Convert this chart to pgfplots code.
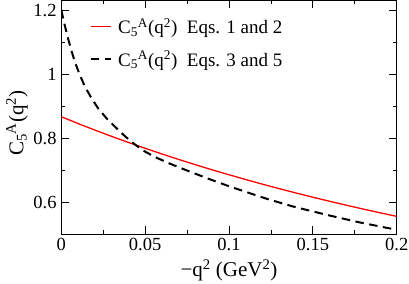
\documentclass[border=0pt]{standalone}
\usepackage{fontspec}
\setmainfont{Liberation Serif}
\usepackage{pgfplots}
\pgfplotsset{compat=1.18}
\begin{document}
\begin{tikzpicture}
\begin{axis}[
  scale only axis,
  width=335.4pt, height=233.8pt,
  xmin=0, xmax=0.2, ymin=0.5, ymax=1.23,
  xtick={0,0.05,0.1,0.15,0.2},
  xticklabels={0,0.05,0.1,0.15,0.2},
  minor xtick={0.025,0.075,0.125,0.175},
  ytick={0.6,0.8,1,1.2},
  yticklabels={0.6,0.8,1,1.2},
  minor ytick={0.5,0.7,0.9,1.1},
  tick align=inside,
  major tick length=8pt, minor tick length=4pt,
  tick style={black, line width=0.8pt},
  axis line style={line width=0.9pt},
  ticklabel style={font=\fontsize{18.5}{20}\selectfont},
  xticklabel style={inner sep=4pt},
  yticklabel style={inner sep=4.5pt},
  xlabel={−q\textsuperscript{2} (GeV\textsuperscript{2})},
  xlabel style={font=\fontsize{21}{24}\selectfont, at={(axis description cs:0.5,0)}, anchor=base, yshift=-42.4pt},
  ylabel={C\textsubscript{5}\textsuperscript{A}(q\textsuperscript{2})},
  ylabel style={font=\fontsize{21}{24}\selectfont, at={(axis description cs:-0.113,0.475)}, anchor=base},
  legend style={at={(axis description cs:0.084,0.924)}, anchor=north west, draw=none, fill=none,
    inner sep=0pt, row sep=16pt, font=\fontsize{19}{21}\selectfont, nodes={inner sep=0pt},
    /tikz/every odd column/.style={column sep=6pt}},
  legend cell align=left,
  legend image code/.code={\draw[#1] (0pt,0pt) -- (20.5pt,0pt);},
]
\addplot[red, line width=1.3pt] coordinates {
(0,0.867) (0.01,0.8458) (0.02,0.8254) (0.03,0.8058) (0.04,0.7868) (0.05,0.7685)
(0.06,0.7508) (0.07,0.7337) (0.08,0.7172) (0.09,0.7012) (0.10,0.6858) (0.11,0.6709)
(0.12,0.6564) (0.13,0.6425) (0.14,0.6289) (0.15,0.6158) (0.16,0.6031) (0.17,0.5908)
(0.18,0.5788) (0.19,0.5672) (0.20,0.5560)};
\addlegendentry{C\textsubscript{5}\textsuperscript{A}(q\textsuperscript{2})\hspace{0.5em}Eqs. 1 and 2}
\addplot[black, line width=2pt, dash pattern=on 8.5pt off 5.5pt] coordinates {
(0,1.200) (0.002,1.154) (0.004,1.112) (0.006,1.074) (0.008,1.040) (0.011,0.998)
(0.014,0.962) (0.018,0.925) (0.022,0.893) (0.027,0.862) (0.032,0.836) (0.038,0.806)
(0.044,0.780) (0.050,0.758) (0.056,0.741) (0.065,0.720) (0.077,0.695) (0.089,0.671)
(0.100,0.650) (0.112,0.629) (0.123,0.610) (0.138,0.587) (0.158,0.561) (0.178,0.537)
(0.200,0.514)};
\addlegendentry{C\textsubscript{5}\textsuperscript{A}(q\textsuperscript{2})\hspace{0.5em}Eqs. 3 and 5}
\end{axis}
\pgfresetboundingbox
\path ([xshift=-61.3pt,yshift=-49.7pt]current axis.south west) rectangle ([xshift=12.3pt,yshift=0.5pt]current axis.north east);
\end{tikzpicture}
\end{document}
